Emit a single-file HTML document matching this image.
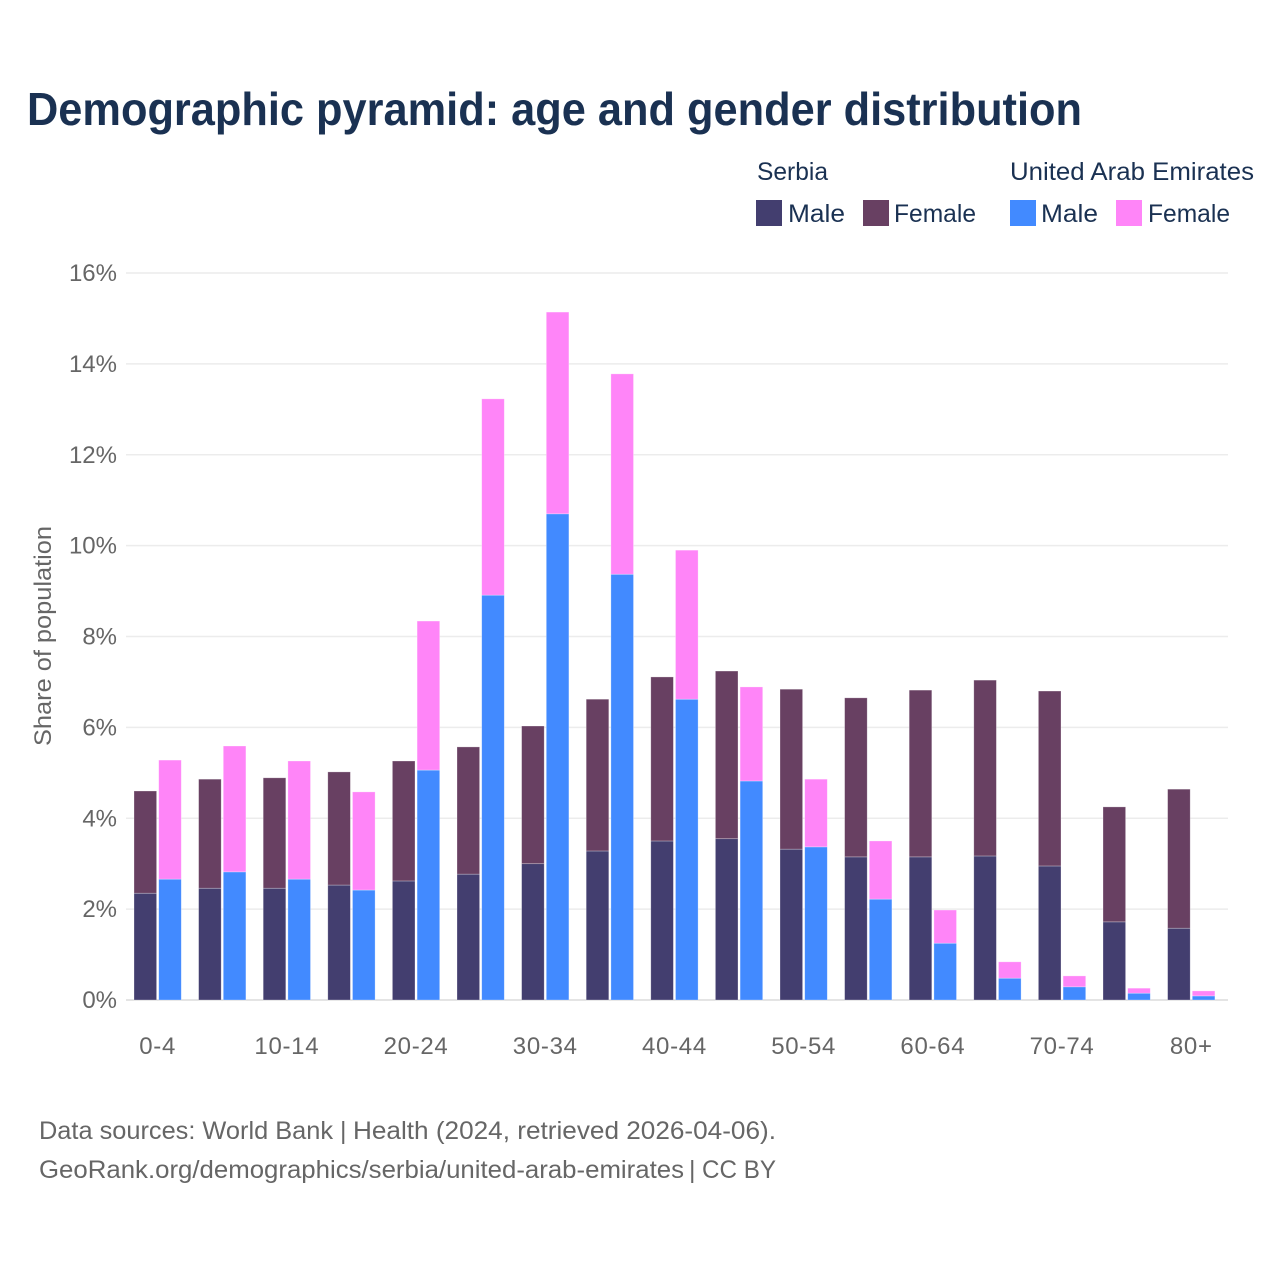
<!DOCTYPE html>
<html lang="en">
<head>
<meta charset="utf-8">
<title>Demographic pyramid: age and gender distribution</title>
<style>
html,body{margin:0;padding:0;background:#fff;}
svg{display:block;font-family:"Liberation Sans",sans-serif;}
</style>
</head>
<body>
<svg id="chart" width="1280" height="1280" viewBox="0 0 1280 1280" xmlns="http://www.w3.org/2000/svg">
  <rect x="0" y="0" width="1280" height="1280" fill="#ffffff"/>
  <text x="27" y="125" font-size="46" font-weight="700" fill="#1a3152" textLength="1055" lengthAdjust="spacingAndGlyphs">Demographic pyramid: age and gender distribution</text>

  <g font-size="25" fill="#1a3152">
    <text x="757" y="180" textLength="71" lengthAdjust="spacingAndGlyphs">Serbia</text>
    <text x="1010" y="180" textLength="244" lengthAdjust="spacingAndGlyphs">United Arab Emirates</text>
    <rect x="756" y="200" width="26" height="26" fill="#433e6f"/>
    <text x="788" y="222" textLength="57" lengthAdjust="spacingAndGlyphs">Male</text>
    <rect x="863" y="200" width="26" height="26" fill="#684062"/>
    <text x="894" y="222" textLength="82" lengthAdjust="spacingAndGlyphs">Female</text>
    <rect x="1010" y="200" width="26" height="26" fill="#428aff"/>
    <text x="1041" y="222" textLength="57" lengthAdjust="spacingAndGlyphs">Male</text>
    <rect x="1116" y="200" width="26" height="26" fill="#ff85f8"/>
    <text x="1148" y="222" textLength="82" lengthAdjust="spacingAndGlyphs">Female</text>
  </g>

  <g id="grid"></g>
  <g id="bars"></g>
  <g id="yticks"></g>
  <g id="xticks"></g>

  <text transform="translate(51,746) rotate(-90)" font-size="24" fill="#666666" textLength="220" lengthAdjust="spacingAndGlyphs">Share of population</text>

  <text y="1139" font-size="25" fill="#666666"><tspan x="39" textLength="294" lengthAdjust="spacingAndGlyphs">Data sources: World Bank</tspan> <tspan x="340">|</tspan> <tspan x="353" textLength="423" lengthAdjust="spacingAndGlyphs">Health (2024, retrieved 2026-04-06).</tspan></text>
  <text y="1178" font-size="25" fill="#666666"><tspan x="39" textLength="645" lengthAdjust="spacingAndGlyphs">GeoRank.org/demographics/serbia/united-arab-emirates</tspan> <tspan x="689">|</tspan> <tspan x="702" textLength="74" lengthAdjust="spacingAndGlyphs">CC BY</tspan></text>
</svg>
<script>
const categories = ["0-4","5-9","10-14","15-19","20-24","25-29","30-34","35-39","40-44","45-49","50-54","55-59","60-64","65-69","70-74","75-79","80+"];
const serbiaMale = [2.35,2.46,2.46,2.53,2.62,2.77,3.00,3.28,3.50,3.55,3.32,3.15,3.15,3.17,2.95,1.72,1.58];
const serbiaFemale = [2.25,2.40,2.43,2.49,2.64,2.80,3.03,3.34,3.61,3.69,3.52,3.50,3.67,3.87,3.85,2.53,3.06];
const uaeMale = [2.66,2.82,2.66,2.42,5.06,8.91,10.70,9.37,6.62,4.82,3.37,2.22,1.25,0.48,0.29,0.15,0.09];
const uaeFemale = [2.62,2.77,2.60,2.16,3.28,4.32,4.44,4.41,3.28,2.07,1.49,1.28,0.73,0.36,0.24,0.11,0.11];
const yTicks = [0,2,4,6,8,10,12,14,16];
const xTickEvery = 2;

const NS = "http://www.w3.org/2000/svg";
const plotLeft = 126, plotRight = 1228, plotBottom = 1000, plotTop = 273, yMax = 16;
const firstBarX = 134, groupStep = 64.6, barStep = 24.7, barWidth = 22.6;
function yScale(v){ return plotBottom - (v / yMax) * (plotBottom - plotTop); }
function xScale(i){ return firstBarX + i * groupStep; }

const gridG = document.getElementById("grid");
const yG = document.getElementById("yticks");
const xG = document.getElementById("xticks");
const barsG = document.getElementById("bars");

yTicks.forEach(function(t){
  const y = yScale(t);
  const line = document.createElementNS(NS, "line");
  
  
  line.setAttribute("x1", plotLeft);
  line.setAttribute("x2", plotRight);
  line.setAttribute("y1", y);
  line.setAttribute("y2", y);
  line.setAttribute("stroke", t === 0 ? "#e4e4e4" : "#ececec");
  line.setAttribute("stroke-width", t === 0 ? 2 : 1.5);
  gridG.appendChild(line);
  const label = document.createElementNS(NS, "text");
  
  
  label.setAttribute("x", 117);
  label.setAttribute("y", y + 8);
  label.setAttribute("text-anchor", "end");
  label.setAttribute("font-size", "24");
  label.setAttribute("fill", "#666666");
  label.textContent = t + "%";
  yG.appendChild(label);
});

function addBar(x, base, value, fill){
  const y0 = yScale(base), y1 = yScale(base + value);
  const r = document.createElementNS(NS, "rect");
  
  
  r.setAttribute("x", x);
  r.setAttribute("y", y1);
  r.setAttribute("width", barWidth);
  r.setAttribute("height", Math.max(0, y0 - y1));
  r.setAttribute("fill", fill);
  r.setAttribute("stroke", "#ffffff");
  r.setAttribute("stroke-opacity", "0.4");
  r.setAttribute("stroke-width", "0.7");
  barsG.appendChild(r);
}

categories.forEach(function(c, i){
  const x = xScale(i);
  addBar(x, 0, serbiaMale[i], "#433e6f");
  addBar(x, serbiaMale[i], serbiaFemale[i], "#684062");
  addBar(x + barStep, 0, uaeMale[i], "#428aff");
  addBar(x + barStep, uaeMale[i], uaeFemale[i], "#ff85f8");
  if (i % xTickEvery === 0) {
    const label = document.createElementNS(NS, "text");
    
    
    label.setAttribute("x", x + (barStep + barWidth) / 2);
    label.setAttribute("y", 1054);
    label.setAttribute("text-anchor", "middle");
    label.setAttribute("font-size", "24");
    label.setAttribute("letter-spacing", "0.7");
    label.setAttribute("fill", "#666666");
    label.textContent = c;
    xG.appendChild(label);
  }
});
</script>
</body>
</html>
